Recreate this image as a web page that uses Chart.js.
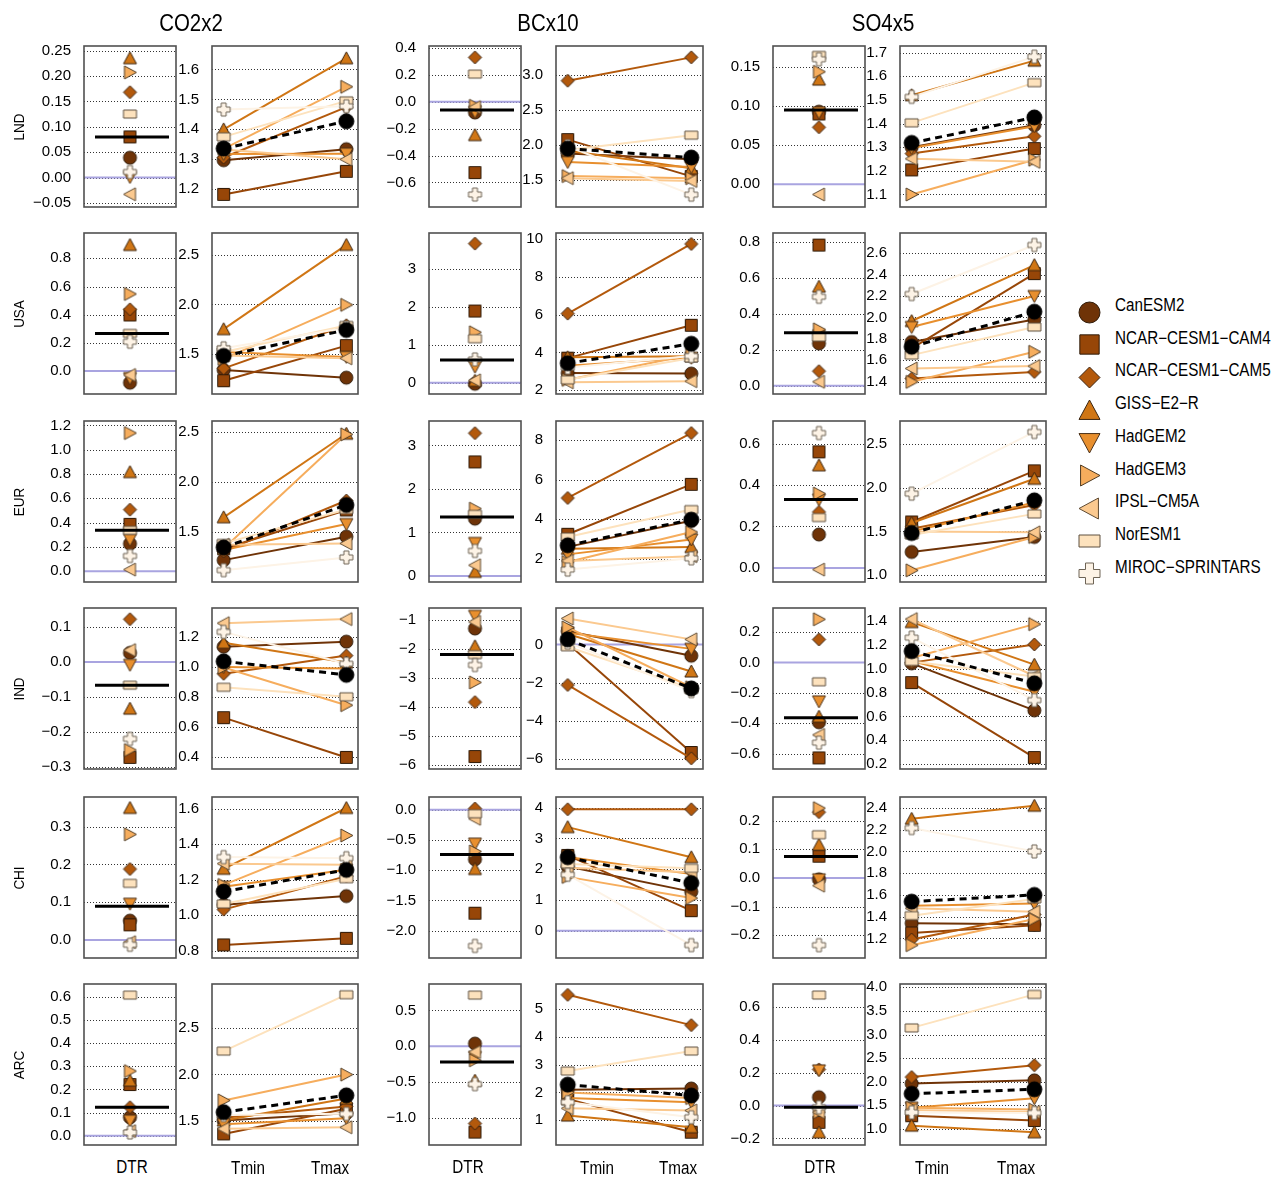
<!DOCTYPE html>
<html>
<head>
<meta charset="utf-8">
<script src="https://cdn.jsdelivr.net/npm/chart.js@4.4.1/dist/chart.umd.min.js"></script>
<style>
  html, body { margin: 0; padding: 0; background: #fff; }
  body { width: 1276px; height: 1179px; position: relative; overflow: hidden;
         font-family: 'Liberation Sans', Arial, sans-serif; color: #000; }
  .t { position: absolute; white-space: nowrap; transform: translate(-50%, -50%) scaleX(0.87); line-height: 1; }
  .rot { transform: translate(-50%, -50%) rotate(-90deg) scaleX(0.87); }
  canvas { position: absolute; }
  .lg { position: absolute; white-space: nowrap; font-size: 17.5px; line-height: 1;
        transform: translateY(-50%) scaleX(0.87); transform-origin: 0 50%; }
</style>
</head>
<body>
<script>
// ---------------- categories ----------------
var forcings = ['CO2x2', 'BCx10', 'SO4x5'];
var regions  = ['LND', 'USA', 'EUR', 'IND', 'CHI', 'ARC'];
var models   = ['CanESM2', 'NCAR\u2212CESM1\u2212CAM4', 'NCAR\u2212CESM1\u2212CAM5', 'GISS\u2212E2\u2212R',
                'HadGEM2', 'HadGEM3', 'IPSL\u2212CM5A', 'NorESM1', 'MIROC\u2212SPRINTARS'];

// ---------------- CO2x2 ----------------
// model order: CanESM2, CAM4, CAM5, GISS, HadGEM2, HadGEM3, IPSL, NorESM1, MIROC
var CO2x2_LND_dtr  = [0.039, 0.080, 0.168, 0.235, 0.001, 0.207, -0.033, 0.125, 0.011];
var CO2x2_LND_tmin = [1.297, 1.183, 1.306, 1.400, 1.318, 1.335, 1.333, 1.375, 1.466];
var CO2x2_LND_tmax = [1.334, 1.260, 1.474, 1.637, 1.319, 1.542, 1.300, 1.495, 1.477];
var CO2x2_USA_dtr  = [-0.083, 0.398, 0.438, 0.895, -0.050, 0.547, -0.028, 0.267, 0.208];
var CO2x2_USA_tmin = [1.338, 1.230, 1.355, 1.750, 1.520, 1.450, 1.484, 1.520, 1.557];
var CO2x2_USA_tmax = [1.261, 1.584, 1.790, 2.600, 1.470, 1.995, 1.456, 1.787, 1.765];
var CO2x2_EUR_dtr  = [0.227, 0.386, 0.507, 0.816, 0.260, 1.137, 0.014, 0.337, 0.126];
var CO2x2_EUR_tmin = [1.223, 1.337, 1.310, 1.650, 1.323, 1.340, 1.376, 1.390, 1.123];
var CO2x2_EUR_tmax = [1.457, 1.723, 1.817, 2.483, 1.583, 2.477, 1.390, 1.727, 1.250];
var CO2x2_IND_dtr  = [0.026, -0.272, 0.122, -0.133, -0.008, -0.251, 0.034, -0.066, -0.219];
var CO2x2_IND_tmin = [1.135, 0.663, 0.955, 1.162, 1.000, 0.997, 1.292, 0.865, 1.234];
var CO2x2_IND_tmax = [1.169, 0.398, 1.076, 1.030, 0.990, 0.746, 1.319, 0.802, 1.022];
var CO2x2_CHI_dtr  = [0.051, 0.040, 0.188, 0.350, 0.096, 0.280, -0.006, 0.150, -0.013];
var CO2x2_CHI_tmin = [1.058, 0.832, 1.031, 1.261, 1.160, 1.170, 1.290, 1.063, 1.327];
var CO2x2_CHI_tmax = [1.107, 0.869, 1.219, 1.604, 1.256, 1.449, 1.284, 1.205, 1.321];
var CO2x2_ARC_dtr  = [0.079, 0.221, 0.123, 0.238, 0.065, 0.279, 0.020, 0.607, 0.014];
var CO2x2_ARC_tmin = [1.500, 1.355, 1.530, 1.500, 1.460, 1.718, 1.410, 2.253, 1.560];
var CO2x2_ARC_tmax = [1.580, 1.627, 1.653, 1.738, 1.525, 1.998, 1.427, 2.864, 1.573];
var CO2x2_mean_dtr  = [0.080, 0.267, 0.337, -0.066, 0.089, 0.123];
var CO2x2_mean_tmin = [1.336, 1.480, 1.350, 1.038, 1.133, 1.591];
var CO2x2_mean_tmax = [1.427, 1.742, 1.773, 0.948, 1.255, 1.773];

// ---------------- BCx10 ----------------
var BCx10_LND_dtr  = [-0.080, -0.527, 0.330, -0.248, -0.075, -0.030, -0.040, 0.206, -0.690];
var BCx10_LND_tmin = [1.880, 2.080, 2.919, 1.920, 1.760, 1.560, 1.530, 1.930, 1.985];
var BCx10_LND_tmax = [1.800, 1.555, 3.252, 1.670, 1.690, 1.530, 1.490, 2.143, 1.295];
var BCx10_USA_dtr  = [-0.030, 1.890, 3.670, 0.050, 0.420, 1.330, 0.060, 1.160, 0.614];
var BCx10_USA_tmin = [2.910, 3.700, 6.060, 3.750, 3.300, 2.550, 2.420, 2.550, 3.200];
var BCx10_USA_tmax = [2.880, 5.440, 9.750, 3.800, 3.720, 3.880, 2.480, 3.710, 3.810];
var BCx10_EUR_dtr  = [1.316, 2.620, 3.280, 0.092, 0.757, 1.545, 0.245, 1.415, 0.574];
var BCx10_EUR_tmin = [2.600, 3.240, 5.080, 2.500, 2.220, 1.830, 1.890, 3.100, 1.450];
var BCx10_EUR_tmax = [3.920, 5.770, 8.370, 2.590, 2.980, 3.350, 2.130, 4.490, 2.020];
var BCx10_IND_dtr  = [-1.290, -5.710, -3.830, -1.900, -0.850, -3.150, -1.060, -2.190, -2.550];
var BCx10_IND_tmin = [0.700, 0.050, -2.130, 0.550, 0.620, 0.900, 1.370, -0.120, 0.100];
var BCx10_IND_tmax = [-0.590, -5.680, -5.990, -1.420, -0.230, -2.250, 0.270, -2.310, -2.450];
var BCx10_CHI_dtr  = [-0.820, -1.710, 0.020, -0.980, -0.560, -0.690, -0.150, -0.066, -2.250];
var BCx10_CHI_tmin = [2.090, 2.450, 3.950, 3.370, 2.400, 1.750, 2.050, 2.170, 1.820];
var BCx10_CHI_tmax = [1.270, 0.650, 3.950, 2.390, 1.840, 1.060, 1.900, 2.030, -0.470];
var BCx10_ARC_dtr  = [0.037, -1.200, -1.080, -0.480, -0.150, -0.196, -0.080, 0.715, -0.530];
var BCx10_ARC_tmin = [2.100, 1.770, 5.510, 1.170, 1.800, 2.000, 1.430, 2.770, 1.650];
var BCx10_ARC_tmax = [2.140, 0.570, 4.420, 0.750, 1.650, 1.800, 1.350, 3.490, 1.110];
var BCx10_mean_dtr  = [-0.062, 0.597, 1.354, -2.190, -0.740, -0.220];
var BCx10_mean_tmin = [1.952, 3.430, 2.680, 0.270, 2.390, 2.280];
var BCx10_mean_tmax = [1.824, 4.460, 3.980, -2.310, 1.550, 1.890];

// ---------------- SO4x5 ----------------
var SO4x5_LND_dtr  = [0.093, 0.090, 0.073, 0.134, 0.092, 0.144, -0.013, 0.165, 0.160];
var SO4x5_LND_tmin = [1.300, 1.204, 1.273, 1.520, 1.297, 1.100, 1.251, 1.403, 1.513];
var SO4x5_LND_tmax = [1.393, 1.294, 1.346, 1.666, 1.389, 1.247, 1.238, 1.573, 1.683];
var SO4x5_USA_dtr  = [0.235, 0.781, 0.081, 0.550, 0.280, 0.313, 0.022, 0.270, 0.494];
var SO4x5_USA_tmin = [1.770, 1.710, 1.428, 1.966, 1.910, 1.397, 1.522, 1.647, 2.219];
var SO4x5_USA_tmax = [1.980, 2.410, 1.490, 2.490, 2.200, 1.678, 1.544, 1.910, 2.678];
var SO4x5_EUR_dtr  = [0.161, 0.560, 0.270, 0.495, 0.330, 0.359, -0.008, 0.243, 0.651];
var SO4x5_EUR_tmin = [1.266, 1.608, 1.530, 1.596, 1.500, 1.057, 1.500, 1.460, 1.930];
var SO4x5_EUR_tmax = [1.437, 2.190, 1.800, 2.100, 1.830, 1.437, 1.490, 1.700, 2.633];
var SO4x5_IND_dtr  = [-0.393, -0.627, 0.151, -0.356, -0.256, 0.284, -0.476, -0.127, -0.527];
var SO4x5_IND_tmin = [1.044, 0.883, 1.050, 1.389, 1.063, 1.088, 1.414, 1.060, 1.259];
var SO4x5_IND_tmax = [0.651, 0.256, 1.202, 1.033, 0.807, 1.372, 0.938, 0.933, 0.736];
var SO4x5_CHI_dtr  = [-0.005, 0.076, 0.230, 0.116, -0.005, 0.244, -0.027, 0.151, -0.235];
var SO4x5_CHI_tmin = [1.340, 1.250, 1.190, 2.300, 1.500, 1.138, 1.477, 1.409, 2.215];
var SO4x5_CHI_tmax = [1.330, 1.320, 1.420, 2.420, 1.520, 1.378, 1.446, 1.563, 2.000];
var SO4x5_ARC_dtr  = [0.051, -0.102, 0.220, -0.163, 0.214, -0.040, -0.040, 0.673, -0.010];
var SO4x5_ARC_tmin = [1.960, 1.280, 2.100, 1.070, 1.450, 1.450, 1.400, 3.140, 1.350];
var SO4x5_ARC_tmax = [2.030, 1.180, 2.350, 0.930, 1.650, 1.410, 1.360, 3.850, 1.340];
var SO4x5_mean_dtr  = [0.095, 0.294, 0.330, -0.364, 0.075, -0.010];
var SO4x5_mean_tmin = [1.318, 1.725, 1.482, 1.146, 1.538, 1.745];
var SO4x5_mean_tmax = [1.426, 2.053, 1.854, 0.877, 1.600, 1.840];

// ---------------- axes: [min, max, tick step, decimals] per region ----------------
var CO2x2_dtrAxis = [[-0.058, 0.259, 0.05, 2], [-0.163, 0.98, 0.2, 1], [-0.088, 1.236, 0.2, 1],
                     [-0.305, 0.154, 0.1, 1], [-0.048, 0.379, 0.1, 1], [-0.04, 0.655, 0.1, 1]];
var CO2x2_ttAxis  = [[1.141, 1.678, 0.1, 1], [1.096, 2.72, 0.5, 1], [1.005, 2.61, 0.5, 1],
                     [0.321, 1.393, 0.2, 1], [0.758, 1.666, 0.2, 1], [1.235, 2.98, 0.5, 1]];
var BCx10_dtrAxis = [[-0.783, 0.415, 0.2, 1], [-0.3, 3.95, 1, 0], [-0.14, 3.56, 1, 0],
                     [-6.14, -0.58, 1, 0], [-2.45, 0.21, 0.5, 1], [-1.38, 0.87, 0.5, 1]];
var BCx10_ttAxis  = [[1.119, 3.414, 0.5, 1], [1.8, 10.33, 2, 0], [0.82, 8.98, 2, 0],
                     [-6.55, 1.92, 2, 0], [-0.89, 4.35, 1, 0], [0.11, 5.9, 1, 0]];
var SO4x5_dtrAxis = [[-0.029, 0.177, 0.05, 2], [-0.046, 0.848, 0.2, 1], [-0.068, 0.709, 0.2, 1],
                     [-0.70, 0.358, 0.2, 1], [-0.28, 0.283, 0.1, 1], [-0.24, 0.74, 0.2, 1]];
var SO4x5_ttAxis  = [[1.047, 1.728, 0.1, 1], [1.283, 2.79, 0.2, 1], [0.924, 2.758, 0.5, 1],
                     [0.16, 1.507, 0.2, 1], [1.02, 2.50, 0.2, 1], [0.66, 4.07, 0.5, 1]];

var xLabelsTT = ['Tmin', 'Tmax'];
var xLabelDTR = 'DTR';

// ---------------- styles ----------------
var FONT = "'Liberation Sans', Arial, sans-serif";
var MODEL_SHAPES = ['circle', 'square', 'diamond', 'up', 'down', 'right', 'left', 'rect', 'cross'];
var MODEL_COLORS = ['#6f3307', '#974608', '#b3590c', '#d07615', '#e88f2e', '#f6ad5d', '#fbc98f', '#fde2bd', '#fdf3e6'];
var MODEL_STROKE = ['#2e1a08', '#2e1a08', '#3a2210', '#3a2410', '#4a3018', '#4e3a22', '#5e4a32', '#5e5040', '#6e6456'];

var GROUP_X = [[84, 177, 212, 362], [429, 522, 556, 707], [773, 866, 900, 1050]];
var ROW_Y = [46, 233, 421, 608, 797, 984];
var BOX_H = 161;
var LW = 58, PADT = 12, PADB = 12, PADR = 6;

function makeMarker(shape, fill, stroke, s) {
  var w = s, h = (shape === 'rect') ? Math.round(s * 0.58) : s;
  var c = document.createElement('canvas');
  c.width = w + 4; c.height = h + 4;
  var g = c.getContext('2d');
  var cx = c.width / 2, cy = c.height / 2, r = s / 2;
  g.fillStyle = fill; g.strokeStyle = stroke; g.lineWidth = 1; g.lineJoin = 'miter';
  g.beginPath();
  switch (shape) {
    case 'circle': g.arc(cx, cy, r, 0, Math.PI * 2); break;
    case 'square': g.rect(cx - r * 0.92, cy - r * 0.92, r * 1.84, r * 1.84); break;
    case 'diamond': g.moveTo(cx, cy - r); g.lineTo(cx + r, cy); g.lineTo(cx, cy + r); g.lineTo(cx - r, cy); g.closePath(); break;
    case 'up': g.moveTo(cx, cy - r); g.lineTo(cx + r, cy + r * 0.85); g.lineTo(cx - r, cy + r * 0.85); g.closePath(); break;
    case 'down': g.moveTo(cx, cy + r); g.lineTo(cx + r, cy - r * 0.85); g.lineTo(cx - r, cy - r * 0.85); g.closePath(); break;
    case 'right': g.moveTo(cx + r, cy); g.lineTo(cx - r * 0.85, cy - r); g.lineTo(cx - r * 0.85, cy + r); g.closePath(); break;
    case 'left': g.moveTo(cx - r, cy); g.lineTo(cx + r * 0.85, cy - r); g.lineTo(cx + r * 0.85, cy + r); g.closePath(); break;
    case 'rect': g.rect(cx - w / 2, cy - h / 2, w, h); break;
    case 'cross': {
      var a = s * 0.19;
      g.moveTo(cx - a, cy - r); g.lineTo(cx + a, cy - r); g.lineTo(cx + a, cy - a); g.lineTo(cx + r, cy - a);
      g.lineTo(cx + r, cy + a); g.lineTo(cx + a, cy + a); g.lineTo(cx + a, cy + r); g.lineTo(cx - a, cy + r);
      g.lineTo(cx - a, cy + a); g.lineTo(cx - r, cy + a); g.lineTo(cx - r, cy - a); g.lineTo(cx - a, cy - a);
      g.closePath(); break;
    }
  }
  g.fill(); g.stroke();
  return c;
}

var panelMarkers = MODEL_SHAPES.map(function (sh, i) { return makeMarker(sh, MODEL_COLORS[i], MODEL_STROKE[i], 13); });
var legendMarkers = MODEL_SHAPES.map(function (sh, i) { return makeMarker(sh, MODEL_COLORS[i], MODEL_STROKE[i], 21); });
var meanMarker = makeMarker('circle', '#000', '#000', 15);

function fmt(v, dec) {
  var s = Math.abs(v) < 1e-9 ? (0).toFixed(dec) : v.toFixed(dec);
  return s.replace('-', '\u2212');
}

var decoPlugin = {
  id: 'deco',
  beforeDatasetsDraw: function (chart, args, opts) {
    var ctx = chart.ctx, a = chart.chartArea, y = chart.scales.y;
    ctx.save();
    ctx.strokeStyle = '#333'; ctx.lineWidth = 1; ctx.setLineDash([1, 2]);
    y.ticks.forEach(function (t) {
      var py = Math.round(y.getPixelForValue(t.value)) + 0.5;
      ctx.beginPath(); ctx.moveTo(a.left, py); ctx.lineTo(a.right, py); ctx.stroke();
    });
    ctx.setLineDash([]);
    if (y.min < 0 && y.max > 0) {
      var pz = y.getPixelForValue(0);
      ctx.strokeStyle = '#a9a4e0'; ctx.lineWidth = 2;
      ctx.beginPath(); ctx.moveTo(a.left, pz); ctx.lineTo(a.right, pz); ctx.stroke();
    }
    ctx.restore();
  },
  afterDatasetsDraw: function (chart, args, opts) {
    if (opts.mean === undefined || opts.mean === null) return;
    var ctx = chart.ctx, a = chart.chartArea, y = chart.scales.y;
    var pm = y.getPixelForValue(opts.mean);
    ctx.save();
    ctx.strokeStyle = '#000'; ctx.lineWidth = 3;
    ctx.beginPath(); ctx.moveTo(a.left + 11, pm); ctx.lineTo(a.right - 7, pm); ctx.stroke();
    ctx.restore();
  },
  afterDraw: function (chart) {
    var ctx = chart.ctx, a = chart.chartArea;
    ctx.save();
    ctx.strokeStyle = '#505050'; ctx.lineWidth = 1.6;
    ctx.strokeRect(a.left, a.top, a.right - a.left, a.bottom - a.top);
    ctx.restore();
  }
};

function yScale(ax) {
  var min = ax[0], max = ax[1], step = ax[2], dec = ax[3];
  return {
    type: 'linear', position: 'left', min: min, max: max,
    grid: { display: false }, border: { display: false },
    afterFit: function (s) { s.width = LW; s.paddingTop = 0; s.paddingBottom = 0; },
    afterBuildTicks: function (s) {
      var t = [];
      for (var k = Math.ceil(min / step - 1e-9); k * step <= max + 1e-9; k++) t.push({ value: +(k * step).toFixed(6) });
      s.ticks = t;
    },
    ticks: { autoSkip: false, padding: 5, color: '#000', font: { family: FONT, size: 15 },
             callback: function (v) { return fmt(v, dec); } }
  };
}

function makePanel(left, top, w, h, cfg) {
  var c = document.createElement('canvas');
  c.width = LW + w + PADR; c.height = h + PADT + PADB;
  c.style.width = c.width + 'px'; c.style.height = c.height + 'px';
  c.style.left = (left - LW) + 'px'; c.style.top = (top - PADT) + 'px';
  document.body.appendChild(c);
  new Chart(c, cfg);
}

function baseOptions(ax, xmin, xmax, mean) {
  return {
    responsive: false, animation: false, events: [],
    layout: { padding: { left: 0, right: PADR, top: PADT, bottom: PADB } },
    plugins: { legend: { display: false }, tooltip: { enabled: false }, deco: { mean: mean } },
    scales: { x: { type: 'linear', display: false, min: xmin, max: xmax }, y: yScale(ax) }
  };
}

function addText(txt, x, y, size, cls) {
  var d = document.createElement('div');
  d.className = 't' + (cls ? ' ' + cls : '');
  d.style.left = x + 'px'; d.style.top = y + 'px'; d.style.fontSize = size + 'px';
  d.textContent = txt;
  document.body.appendChild(d);
}

forcings.forEach(function (f, gi) {
  var gx = GROUP_X[gi];
  var dtrAxis = window[f + '_dtrAxis'], ttAxis = window[f + '_ttAxis'];
  var mDtr = window[f + '_mean_dtr'], mTmin = window[f + '_mean_tmin'], mTmax = window[f + '_mean_tmax'];
  regions.forEach(function (r, ri) {
    var top = ROW_Y[ri];
    var dtr = window[f + '_' + r + '_dtr'], tmin = window[f + '_' + r + '_tmin'], tmax = window[f + '_' + r + '_tmax'];

    // DTR panel
    var dsD = models.map(function (m, i) {
      return { label: m, data: [{ x: 0, y: dtr[i] }], order: models.length - i,
               pointStyle: panelMarkers[i], pointRadius: 6, showLine: false, clip: false };
    });
    makePanel(gx[0], top, gx[1] - gx[0], BOX_H, {
      type: 'scatter', data: { datasets: dsD },
      options: baseOptions(dtrAxis[ri], -1, 1, mDtr[ri]), plugins: [decoPlugin]
    });

    // Tmin / Tmax panel
    var dsT = models.map(function (m, i) {
      return { label: m, data: [{ x: 0, y: tmin[i] }, { x: 1, y: tmax[i] }], order: models.length - i,
               borderColor: MODEL_COLORS[i], borderWidth: 2, pointStyle: panelMarkers[i], pointRadius: 6,
               showLine: true, fill: false, clip: false };
    });
    dsT.push({ label: 'mean', data: [{ x: 0, y: mTmin[ri] }, { x: 1, y: mTmax[ri] }], order: 0,
               borderColor: '#000', borderWidth: 3, borderDash: [7, 5], pointStyle: meanMarker, pointRadius: 7,
               showLine: true, fill: false, clip: false });
    makePanel(gx[2], top, gx[3] - gx[2], BOX_H, {
      type: 'scatter', data: { datasets: dsT },
      options: baseOptions(ttAxis[ri], -0.095, 1.095, null), plugins: [decoPlugin]
    });
  });
});

// titles
var TITLE_X = [191, 548, 883];
forcings.forEach(function (f, gi) { addText(f, TITLE_X[gi], 24, 23.5); });
// row labels
regions.forEach(function (r, ri) { addText(r, 19, ROW_Y[ri] + BOX_H / 2, 15.5, 'rot'); });
// x labels
var XL = [[132, 248, 330], [468, 597, 678], [820, 932, 1016]];
XL.forEach(function (p) {
  addText(xLabelDTR, p[0], 1168, 17.5);
  addText(xLabelsTT[0], p[1], 1169, 17.5);
  addText(xLabelsTT[1], p[2], 1169, 17.5);
});

// legend
models.forEach(function (m, i) {
  var cy = 312 + i * 32.7;
  var mk = legendMarkers[i];
  var img = document.createElement('canvas');
  img.width = mk.width; img.height = mk.height;
  img.getContext('2d').drawImage(mk, 0, 0);
  img.style.left = (1089 - mk.width / 2) + 'px'; img.style.top = (cy - mk.height / 2) + 'px';
  document.body.appendChild(img);
  var d = document.createElement('div');
  d.className = 'lg'; d.style.left = '1115px'; d.style.top = (cy - 6) + 'px';
  d.textContent = m;
  document.body.appendChild(d);
});
</script>
</body>
</html>
